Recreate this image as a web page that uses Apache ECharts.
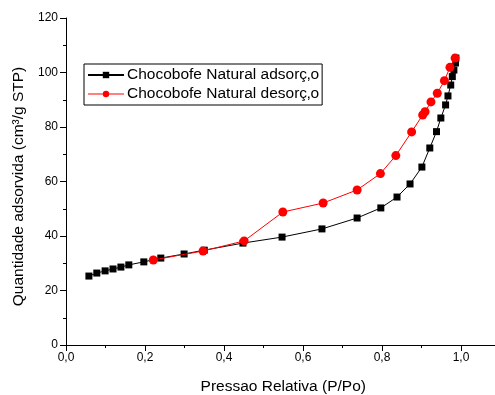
<!DOCTYPE html>
<html>
<head>
<meta charset="utf-8">
<script src="https://cdn.jsdelivr.net/npm/echarts@6/dist/echarts.min.js"></script>
<style>
  html, body { margin: 0; padding: 0; background: #fff; }
  #main { width: 495px; height: 395px; }
</style>
</head>
<body>
<div id="main"></div>
<script>
// adsorption branch (black squares)
const adsX = [0.058, 0.078, 0.099, 0.119, 0.139, 0.159, 0.197, 0.24, 0.299, 0.35, 0.448, 0.547, 0.648, 0.737, 0.797, 0.838, 0.871, 0.901, 0.921, 0.938, 0.949, 0.961, 0.967, 0.974, 0.978, 0.982, 0.986, 0.987];
const adsY = [25.3, 26.4, 27.2, 27.9, 28.6, 29.4, 30.5, 31.9, 33.4, 34.8, 37.4, 39.6, 42.6, 46.6, 50.3, 54.3, 59.1, 65.3, 72.3, 78.3, 83.3, 88.1, 91.4, 95.4, 98.5, 100.9, 103.5, 105.3];

// desorption branch (red circles)
const desX = [0.221, 0.347, 0.451, 0.549, 0.651, 0.737, 0.796, 0.835, 0.875, 0.903, 0.909, 0.924, 0.94, 0.958, 0.972, 0.985];
const desY = [31.2, 34.5, 38.2, 48.8, 52.1, 56.9, 62.9, 69.5, 78.2, 84.4, 85.6, 89.2, 92.4, 97.0, 101.9, 105.3];

const seriesNames = ['Chocobofe Natural adsorç‚o', 'Chocobofe Natural desorç‚o'];

function pairs(xs, ys) {
  return xs.map((x, i) => [x, ys[i]]);
}

const font = 'Arial, "Liberation Sans", sans-serif';
let chart = echarts.init(document.getElementById('main'));

let options = {
  animation: false,
  textStyle: { fontFamily: font },
  grid: { left: 66, top: 18, bottom: 50, width: 434.5, outerBoundsMode: 'none', containLabel: false },
  legend: {
    left: 84,
    top: 64,
    orient: 'vertical',
    itemWidth: 36,
    itemHeight: 8,
    itemGap: 3,
    padding: [3, 3, 3, 3],
    borderColor: '#000',
    borderWidth: 1,
    borderRadius: 0,
    textStyle: { fontSize: 15.5, color: '#000', fontFamily: font, padding: [0, 0, 0, -2] },
    data: [
      { name: seriesNames[0] },
      { name: seriesNames[1], lineStyle: { color: '#ff8080' } }
    ]
  },
  xAxis: {
    type: 'value',
    min: 0,
    max: 1.1,
    interval: 0.2,
    name: 'Pressao Relativa (P/Po)',
    nameLocation: 'middle',
    nameGap: 34,
    nameTextStyle: { fontSize: 15.5, color: '#000' },
    axisLine: { lineStyle: { color: '#000', width: 1 } },
    axisTick: { inside: false, length: 6, lineStyle: { color: '#000' } },
    minorTick: { show: true, splitNumber: 2, length: 3, lineStyle: { color: '#000' } },
    axisLabel: {
      fontSize: 12, color: '#000', margin: 7,
      formatter: v => v > 1.05 ? '' : v.toFixed(1).replace('.', ',')
    },
    splitLine: { show: false }
  },
  yAxis: {
    type: 'value',
    min: 0,
    max: 120,
    interval: 20,
    name: 'Quantidade adsorvida (cm³/g STP)',
    nameLocation: 'middle',
    nameGap: 30,
    nameTextStyle: { fontSize: 15.5, color: '#000', padding: [0, 10, 0, 0] },
    axisLine: { show: true, lineStyle: { color: '#000', width: 1 } },
    axisTick: { show: true, inside: false, length: 6, lineStyle: { color: '#000' } },
    minorTick: { show: true, splitNumber: 2, length: 3, lineStyle: { color: '#000' } },
    axisLabel: { fontSize: 12, color: '#000', margin: 8 },
    splitLine: { show: false }
  },
  series: [
    {
      name: seriesNames[0],
      type: 'line',
      data: pairs(adsX, adsY),
      symbol: 'rect',
      symbolSize: 7,
      color: '#000',
      lineStyle: { color: '#000', width: 1 },
      itemStyle: { color: '#000' },
      z: 2
    },
    {
      name: seriesNames[1],
      type: 'line',
      data: pairs(desX, desY),
      symbol: 'circle',
      symbolSize: 9,
      color: '#ff0000',
      lineStyle: { color: '#ff0000', width: 1 },
      itemStyle: { color: '#ff0000' },
      z: 3
    }
  ]
};

chart.setOption(options);
</script>
</body>
</html>
